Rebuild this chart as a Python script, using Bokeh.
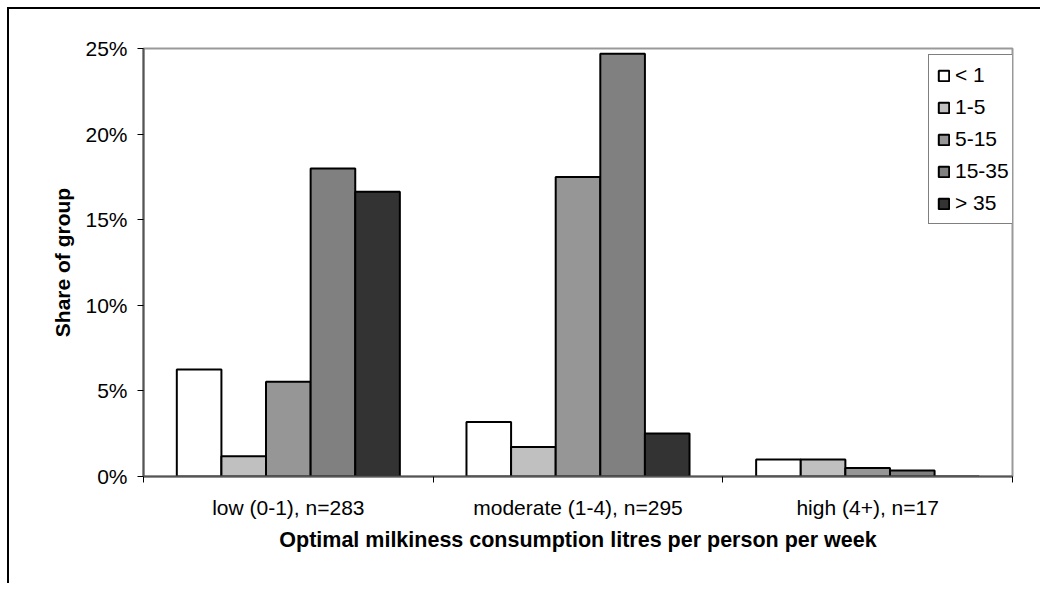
from bokeh.plotting import figure
from bokeh.models import (ColumnDataSource, FixedTicker, NumeralTickFormatter,
                          Legend, LegendItem, Range1d)
from bokeh.transform import dodge
from bokeh.embed import file_html
from bokeh.resources import INLINE

categories = ["low (0-1), n=283", "moderate (1-4), n=295", "high (4+), n=17"]
series = ["< 1", "1-5", "5-15", "15-35", "> 35"]
lt1 = [0.0625, 0.0319, 0.0099]
s1_5 = [0.0119, 0.0173, 0.0099]
s5_15 = [0.0553, 0.1750, 0.0050]
s15_35 = [0.1799, 0.2470, 0.0035]
gt35 = [0.1663, 0.0251, 0.0]
values = [lt1, s1_5, s5_15, s15_35, gt35]
colors = ["#ffffff", "#c0c0c0", "#969696", "#808080", "#333333"]
y_ticks = [0, 0.05, 0.10, 0.15, 0.20, 0.25]

FONT = "Liberation Sans"

centers = [i + 0.5 for i in range(len(categories))]
data = {"x": centers}
for k, s in enumerate(series):
    data["v%d" % k] = values[k]
src = ColumnDataSource(data)

p = figure(width=1033, height=576, output_backend="svg", toolbar_location=None,
           x_range=Range1d(0, len(categories)), y_range=Range1d(0, 0.25),
           min_border_left=134, min_border_right=30, min_border_top=39,
           min_border_bottom=109)
p.styles = {"border-top": "2px solid black", "border-left": "2px solid black",
            "margin-left": "7px", "margin-top": "7px"}

bw = 0.154
renderers = []
for k, s in enumerate(series):
    off = (k - 2) * bw
    r = p.vbar(x=dodge("x", off, range=p.x_range), top="v%d" % k, width=bw,
               source=src, fill_color=colors[k], line_color="black", line_width=2)
    renderers.append(r)

p.xgrid.visible = False
p.ygrid.visible = False
p.outline_line_color = "#999999"
p.outline_line_width = 2

# x axis
xa = p.xaxis[0]
xa.ticker = FixedTicker(ticks=centers, minor_ticks=list(range(len(categories) + 1)))
xa.major_label_overrides = {c: categories[i] for i, c in enumerate(centers)}
xa.major_tick_line_color = None
xa.major_tick_out = 0
xa.major_tick_in = 0
xa.minor_tick_out = 6
xa.minor_tick_in = 0
xa.minor_tick_line_color = "black"
xa.minor_tick_line_width = 1
xa.axis_line_color = "#555555"
xa.axis_line_width = 2
xa.major_label_text_font = FONT
xa.major_label_text_font_size = "21px"
xa.major_label_text_color = "black"
xa.major_label_standoff = 13
xa.axis_label = "Optimal milkiness consumption litres per person per week"
xa.axis_label_text_font = FONT
xa.axis_label_text_font_style = "bold"
xa.axis_label_text_font_size = "21.5px"
xa.axis_label_text_color = "black"
xa.axis_label_standoff = 6

# y axis
ya = p.yaxis[0]
ya.ticker = FixedTicker(ticks=y_ticks, minor_ticks=[])
ya.formatter = NumeralTickFormatter(format="0%")
ya.major_tick_out = 6
ya.major_tick_in = 0
ya.major_tick_line_color = "black"
ya.axis_line_color = "#555555"
ya.axis_line_width = 2
ya.major_label_text_font = FONT
ya.major_label_text_font_size = "21px"
ya.major_label_text_color = "black"
ya.major_label_standoff = 10
ya.axis_label = "Share of group"
ya.axis_label_text_font = FONT
ya.axis_label_text_font_style = "bold"
ya.axis_label_text_font_size = "21px"
ya.axis_label_text_color = "black"
ya.axis_label_standoff = 8

legend = Legend(items=[LegendItem(label=s, renderers=[renderers[k]]) for k, s in enumerate(series)],
                location=(785, 252), orientation="vertical")
legend.label_text_font = FONT
legend.label_text_font_size = "21px"
legend.label_text_color = "black"
legend.glyph_width = 13
legend.glyph_height = 13
legend.label_standoff = 5
legend.label_height = 24
legend.spacing = 8
legend.padding = 8
legend.margin = 0
legend.border_line_color = "black"
legend.border_line_width = 1
legend.background_fill_alpha = 1
p.add_layout(legend, "center")

open("out.html", "w").write(file_html(p, INLINE))
